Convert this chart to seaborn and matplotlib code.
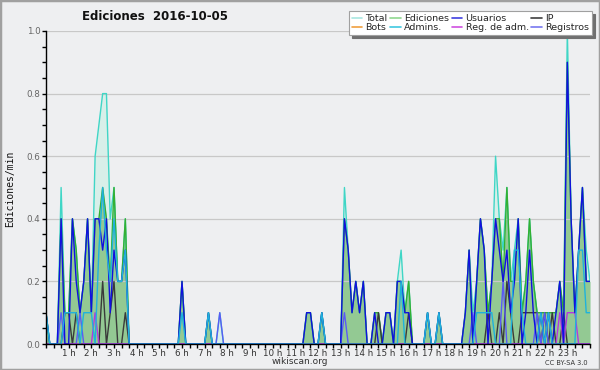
import numpy as np
import pandas as pd
import matplotlib
matplotlib.use("Agg")
import matplotlib.pyplot as plt
from matplotlib.lines import Line2D
from matplotlib.patches import Rectangle
import seaborn as sns

# Ediciones por bloque de 10 minutos, de 00:00 a 24:00 (145 puntos)
total = ([1, 0, 0, 0, 5, 1, 1, 4, 3, 1, 2, 4, 1, 6, 7, 8, 8, 4, 5, 2, 2, 4, 0, 0] +
         [0, 0, 0, 0, 0, 0, 0, 0, 0, 0, 0, 0, 2, 0, 0, 0, 0, 0, 0, 1, 0, 0, 1, 0] +
         [0, 0, 0, 0, 0, 0, 0, 0, 0, 0, 0, 0, 0, 0, 0, 0, 0, 0, 0, 0, 0, 1, 1, 0] +
         [0, 1, 0, 0, 0, 0, 0, 5, 3, 1, 2, 1, 2, 0, 0, 1, 1, 0, 1, 1, 0, 2, 3, 1] +
         [2, 0, 0, 0, 0, 1, 0, 0, 1, 0, 0, 0, 0, 0, 0, 1, 3, 1, 2, 4, 3, 1, 2, 6] +
         [4, 3, 5, 2, 3, 4, 1, 2, 4, 2, 1, 1, 1, 1, 1, 1, 2, 1, 10, 4, 1, 3, 5, 3] +
         [2])
ediciones = ([1, 0, 0, 0, 4, 1, 1, 4, 3, 1, 2, 4, 1, 4, 4, 5, 4, 2, 5, 2, 2, 4, 0, 0] +
             [0, 0, 0, 0, 0, 0, 0, 0, 0, 0, 0, 0, 2, 0, 0, 0, 0, 0, 0, 1, 0, 0, 0, 0] +
             [0, 0, 0, 0, 0, 0, 0, 0, 0, 0, 0, 0, 0, 0, 0, 0, 0, 0, 0, 0, 0, 1, 1, 0] +
             [0, 1, 0, 0, 0, 0, 0, 4, 3, 1, 2, 1, 2, 0, 0, 1, 1, 0, 1, 1, 0, 2, 2, 1] +
             [2, 0, 0, 0, 0, 1, 0, 0, 1, 0, 0, 0, 0, 0, 0, 1, 3, 0, 2, 4, 3, 1, 2, 4] +
             [4, 2, 5, 2, 2, 4, 1, 2, 4, 2, 1, 1, 1, 1, 1, 1, 2, 1, 9, 4, 1, 3, 5, 2] +
             [2])
usuarios = ([1, 0, 0, 0, 4, 0, 0, 4, 2, 1, 2, 4, 1, 4, 4, 3, 4, 1, 3, 2, 2, 3, 0, 0] +
            [0, 0, 0, 0, 0, 0, 0, 0, 0, 0, 0, 0, 2, 0, 0, 0, 0, 0, 0, 1, 0, 0, 0, 0] +
            [0, 0, 0, 0, 0, 0, 0, 0, 0, 0, 0, 0, 0, 0, 0, 0, 0, 0, 0, 0, 0, 1, 1, 0] +
            [0, 1, 0, 0, 0, 0, 0, 4, 3, 1, 2, 1, 2, 0, 0, 1, 0, 0, 1, 1, 0, 2, 2, 1] +
            [1, 0, 0, 0, 0, 1, 0, 0, 1, 0, 0, 0, 0, 0, 0, 1, 3, 0, 2, 4, 3, 0, 2, 4] +
            [3, 2, 3, 1, 2, 4, 0, 1, 3, 1, 0, 1, 0, 1, 0, 1, 2, 0, 9, 4, 1, 3, 5, 2] +
            [2])
ip = ([0, 0, 0, 0, 0, 1, 1, 0, 1, 0, 0, 0, 0, 0, 0, 2, 0, 1, 2, 0, 0, 1, 0, 0] +
      [0, 0, 0, 0, 0, 0, 0, 0, 0, 0, 0, 0, 0, 0, 0, 0, 0, 0, 0, 0, 0, 0, 0, 0] +
      [0, 0, 0, 0, 0, 0, 0, 0, 0, 0, 0, 0, 0, 0, 0, 0, 0, 0, 0, 0, 0, 0, 0, 0] +
      [0, 0, 0, 0, 0, 0, 0, 0, 0, 0, 0, 0, 0, 0, 0, 0, 1, 0, 0, 0, 0, 0, 0, 0] +
      [1, 0, 0, 0, 0, 0, 0, 0, 0, 0, 0, 0, 0, 0, 0, 0, 0, 0, 0, 0, 0, 1, 0, 0] +
      [1, 0, 2, 1, 0, 0, 1, 1, 1, 1, 1, 0, 1, 0, 1, 0, 0, 1, 0, 0, 0, 0, 0, 0] +
      [0])
admins = ([1, 0, 0, 0, 0, 1, 1, 1, 1, 0, 1, 1, 1, 0, 3, 5, 3, 2, 4, 2, 2, 3, 0, 0] +
          [0, 0, 0, 0, 0, 0, 0, 0, 0, 0, 0, 0, 1, 0, 0, 0, 0, 0, 0, 1, 0, 0, 0, 0] +
          [0, 0, 0, 0, 0, 0, 0, 0, 0, 0, 0, 0, 0, 0, 0, 0, 0, 0, 0, 0, 0, 0, 0, 0] +
          [0, 1, 0, 0, 0, 0, 0, 0, 0, 0, 0, 0, 0, 0, 0, 0, 0, 0, 0, 0, 0, 0, 2, 0] +
          [0, 0, 0, 0, 0, 1, 0, 0, 1, 0, 0, 0, 0, 0, 0, 0, 0, 0, 1, 1, 1, 1, 1, 0] +
          [0, 0, 0, 0, 3, 3, 1, 0, 0, 0, 0, 1, 0, 1, 0, 0, 0, 0, 0, 0, 0, 3, 3, 1] +
          [1])
registros = ([0, 0, 0, 0, 1, 0, 0, 0, 0, 1, 0, 0, 0, 0, 0, 0, 0, 0, 0, 0, 0, 0, 0, 0] +
             [0, 0, 0, 0, 0, 0, 0, 0, 0, 0, 0, 0, 0, 0, 0, 0, 0, 0, 0, 0, 0, 0, 1, 0] +
             [0, 0, 0, 0, 0, 0, 0, 0, 0, 0, 0, 0, 0, 0, 0, 0, 0, 0, 0, 0, 0, 0, 0, 0] +
             [0, 0, 0, 0, 0, 0, 0, 1, 0, 0, 0, 0, 0, 0, 0, 0, 0, 0, 0, 0, 0, 0, 0, 0] +
             [0, 0, 0, 0, 0, 0, 0, 0, 0, 0, 0, 0, 0, 0, 0, 0, 0, 1, 0, 0, 0, 0, 0, 0] +
             [0, 2, 0, 0, 0, 0, 0, 0, 0, 0, 1, 0, 1, 0, 0, 0, 0, 0, 0, 0, 0, 0, 0, 0] +
             [0])
reg_adm = ([0, 0, 0, 0, 0, 0, 0, 0, 0, 0, 0, 0, 0, 1, 0, 0, 0, 0, 0, 0, 0, 0, 0, 0] +
           [0, 0, 0, 0, 0, 0, 0, 0, 0, 0, 0, 0, 0, 0, 0, 0, 0, 0, 0, 0, 0, 0, 0, 0] +
           [0, 0, 0, 0, 0, 0, 0, 0, 0, 0, 0, 0, 0, 0, 0, 0, 0, 0, 0, 0, 0, 0, 0, 0] +
           [0, 0, 0, 0, 0, 0, 0, 0, 0, 0, 0, 0, 0, 0, 0, 0, 0, 0, 0, 0, 0, 0, 0, 0] +
           [0, 0, 0, 0, 0, 0, 0, 0, 0, 0, 0, 0, 0, 0, 0, 0, 0, 0, 0, 0, 0, 0, 0, 0] +
           [0, 0, 0, 0, 0, 0, 0, 0, 0, 0, 0, 0, 0, 0, 0, 0, 1, 0, 1, 1, 1, 0, 0, 0] +
           [0])
bots = [0] * 145

hour_labels = ["%d h" % h for h in range(1, 24)]

sns.set_style("ticks")
plt.rcParams["font.family"] = ["DejaVu Sans"]

BG = "#eeeff1"
df = pd.DataFrame({
    "hora": np.arange(len(total)) / 6,
    "Total": np.array(total) / 10,
    "Ediciones": np.array(ediciones) / 10,
    "Usuarios": np.array(usuarios) / 10,
    "IP": np.array(ip) / 10,
    "Bots": np.array(bots) / 10,
    "Admins.": np.array(admins) / 10,
    "Reg. de adm.": np.array(reg_adm) / 10,
    "Registros": np.array(registros) / 10,
})

fig = plt.figure(figsize=(6, 3.7), dpi=100, facecolor=BG)
ax = fig.add_axes([46 / 600, 26 / 370, 544 / 600, 313 / 370])
ax.set_facecolor(BG)

# rellenos
ax.fill_between(df["hora"], df["Total"], color="#d8efe9", lw=0, zorder=1)
ax.fill_between(df["hora"], df["Ediciones"], color="#93c993", lw=0, zorder=1.2)

# lineas (orden de dibujo)
series = [
    ("Bots", "#f0a030", 1.5),
    ("Total", "#3fd6c6", 3),
    ("Ediciones", "#33b033", 3.1),
    ("IP", "#3a3a3a", 3.2),
    ("Registros", "#5a5af5", 3.3),
    ("Reg. de adm.", "#b538e0", 3.4),
    ("Usuarios", "#1010e0", 3.5),
    ("Admins.", "#1fb2dc", 3.6),
]
for name, color, z in series:
    sns.lineplot(data=df, x="hora", y=name, color=color, lw=1.0, ax=ax,
                 zorder=z, legend=False)

ax.set_xlim(0, 24)
ax.set_ylim(0, 1.0)
ax.set_xlabel("")
ax.set_ylabel("")

ax.set_xticks(range(1, 24))
ax.set_xticklabels(hour_labels)
ax.set_xticks(np.arange(0, 24.01, 1 / 3), minor=True)
ax.set_yticks(np.arange(0, 1.01, 0.2))
ax.set_yticklabels(["%.1f" % v for v in np.arange(0, 1.01, 0.2)])
ax.set_yticks(np.arange(0, 1.01, 0.05), minor=True)
ax.tick_params(axis="x", which="both", direction="out", length=3, width=1,
               labelsize=6.3, pad=0.5, colors="#000000", labelcolor="#333333")
ax.tick_params(axis="y", which="both", direction="out", length=3, width=1,
               labelsize=6.3, pad=1, colors="#000000", labelcolor="#666666")
for lab in ax.get_xticklabels():
    lab.set_horizontalalignment("left")
    lab.set_x(lab.get_position()[0])
ax.set_xticklabels(hour_labels, ha="center")

ax.set_axisbelow(False)
ax.yaxis.grid(True, which="major", color="#c8c8c8", lw=0.9)
ax.xaxis.grid(False)
for s in ["top", "right"]:
    ax.spines[s].set_visible(False)
for s in ["left", "bottom"]:
    ax.spines[s].set_color("#000000")
    ax.spines[s].set_linewidth(1)
    ax.spines[s].set_zorder(5)

# leyenda
leg_colors = {"Total": "#a8e6e0", "Bots": "#f0a040", "Ediciones": "#90d890",
              "Admins.": "#40c8e0", "Usuarios": "#4040e0", "Reg. de adm.": "#d050e0",
              "IP": "#404040", "Registros": "#7878f0"}
order = ["Total", "Bots", "Ediciones", "Admins.", "Usuarios", "Reg. de adm.", "IP", "Registros"]
handles = [Line2D([], [], color=leg_colors[n], lw=1.2) for n in order]
leg = fig.legend(handles, order, loc="upper right", bbox_to_anchor=(592 / 600, 1 - 11 / 370),
                 ncol=4, fontsize=6.8, handlelength=1.1, handletextpad=0.35, columnspacing=0.3,
                 labelspacing=0.05, borderpad=0.3, borderaxespad=0, fancybox=False,
                 frameon=True, shadow={"color": "#707070", "alpha": 1})
leg.get_frame().set_edgecolor("#a0a0a0")
leg.get_frame().set_facecolor("#ffffff")
leg.get_frame().set_linewidth(0.8)

fig.text(155 / 600, 1 - 17 / 370, "Ediciones  2016-10-05", ha="center", va="center",
         fontsize=8.5, fontweight="bold", color="#111111")
fig.text(10 / 600, 1 - 189 / 370, "Ediciones/min", rotation=90, ha="center", va="center",
         fontsize=7, family="DejaVu Sans Mono", color="#111111")
fig.text(300 / 600, 1 - 362 / 370, "wikiscan.org", ha="center", va="center",
         fontsize=6.5, color="#333333")
fig.text(588 / 600, 1 - 363 / 370, "CC BY-SA 3.0", ha="right", va="center",
         fontsize=4.8, color="#333333")
fig.patches.append(Rectangle((0, 0), 1, 1, transform=fig.transFigure, fill=False,
                             edgecolor="#a0a0a0", lw=2.5))

fig.savefig("out.png", dpi=100, facecolor=BG)
